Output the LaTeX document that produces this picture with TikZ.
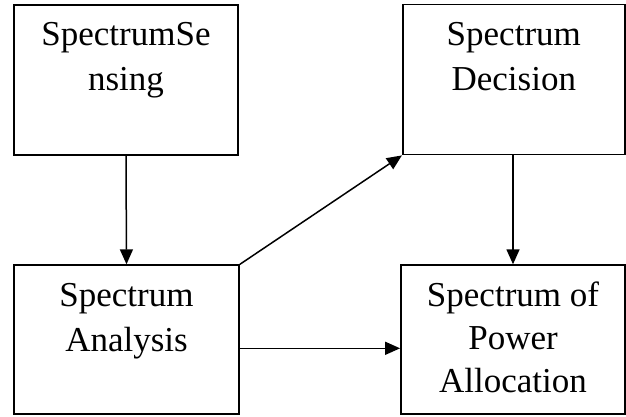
\documentclass[tikz,border=0pt]{standalone}
\usepackage{fontspec}
\setmainfont{Liberation Serif}
\usetikzlibrary{arrows.meta}
\begin{document}
\begin{tikzpicture}[x=1pt,y=-1pt,
  block/.style={draw,line width=1.8pt,rectangle,inner sep=0pt},
  blocktext/.style={font=\fontsize{35}{45}\selectfont,align=center,inner sep=0pt,anchor=base},
  flow/.style={line width=1.5pt,-{Triangle[length=15pt,width=13pt]}}]
\useasboundingbox (0,0) rectangle (626,416);
% boxes, given by their corners
\node[block,minimum width=224pt,minimum height=150pt] (sense) at (126,80) {};
\node[block,minimum width=222pt,minimum height=150pt] (decide) at (513.8,79.5) {};
\node[block,minimum width=225pt,minimum height=149pt] (analyse) at (126.5,339.7) {};
\node[block,minimum width=224pt,minimum height=149pt] (alloc) at (513,339.7) {};
% labels, anchored on the baseline of their last line
\node[blocktext] (senseT) at ([yshift=-86.7pt]sense.north) {SpectrumSe\\nsing};
\node[blocktext] (decideT) at ([yshift=-86.7pt]decide.north) {Spectrum\\Decision};
\node[blocktext] (analyseT) at ([yshift=-86.7pt]analyse.north) {Spectrum\\Analysis};
\node[blocktext,font=\fontsize{35}{43.3}\selectfont] (allocT) at ([yshift=-128.3pt]alloc.north) {Spectrum of\\Power\\Allocation};
% connectors
\draw[flow] (sense.south) -- (analyse.north);
\draw[flow] (analyse.north east) -- (decide.south west);
\draw[flow] (decide.south -| alloc.north) -- (alloc.north);
\draw[flow] (analyse.east |- 0,348.3) -- (alloc.west |- 0,348.3);
\end{tikzpicture}
\end{document}
